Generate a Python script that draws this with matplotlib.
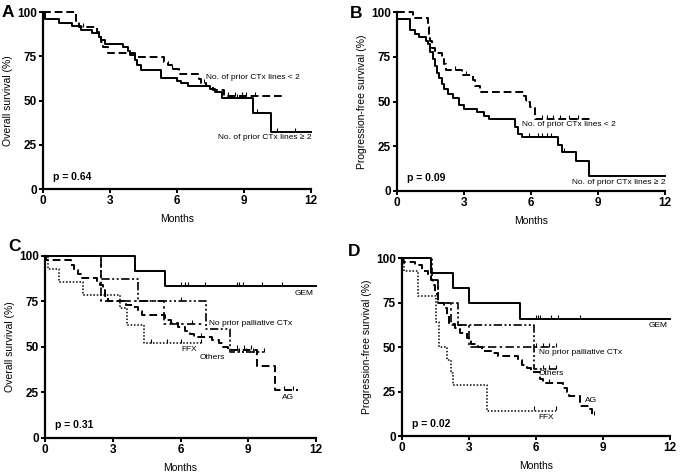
import numpy as np
import matplotlib
matplotlib.use("Agg")
import matplotlib.pyplot as plt

plt.rcParams['font.family'] = ['Liberation Sans', 'DejaVu Sans']
plt.rcParams['font.size'] = 7

# ---- Panel A: overall survival by prior CTx lines
a_ge2_t = [0, 0.1, 0.7, 1.3, 1.7, 2.2, 2.5, 2.6, 2.8, 3.6, 3.8, 3.9, 4.1, 4.2, 4.4, 5.3, 6.0, 6.2, 6.5, 7.5, 7.7, 8.0, 9.4, 10.2, 12.0]
a_ge2_s = [100, 96, 94, 92, 90, 88, 86, 84, 82, 80, 78, 76, 73, 70, 67, 63, 61, 60, 58, 56.5, 55, 51.5, 43, 32, 32]
a_ge2_c = [6.0, 7.3, 8.7, 9.6, 10.5, 11.3]
a_lt2_t = [0, 1.5, 1.6, 2.4, 2.5, 2.6, 2.7, 2.9, 4.1, 5.4, 5.6, 5.8, 6.1, 7.0, 7.1, 7.3, 7.6, 8.1, 10.8]
a_lt2_s = [100, 95, 91.5, 89, 86, 83, 80, 77, 74.5, 72, 70, 68, 65, 62, 60, 58, 56, 52.5, 52.5]
a_lt2_c = [1.8, 5.8, 7.2, 8.3, 8.6, 8.9, 9.1, 9.5]

# ---- Panel B: progression-free survival by prior CTx lines
b_ge2_t = [0, 0.02, 0.6, 0.8, 1.0, 1.3, 1.4, 1.5, 1.6, 1.7, 1.8, 1.9, 2.0, 2.1, 2.3, 2.5, 2.8, 3.0, 3.6, 3.9, 4.1, 5.3, 5.4, 5.6, 7.2, 7.4, 8.0, 8.6, 12.0]
b_ge2_s = [100, 96, 90, 88, 86, 84, 82, 78, 74, 70, 66, 63, 60, 57, 54, 52, 48, 46, 44, 42, 40, 36, 32, 30, 26, 22, 16.5, 8.2, 8.2]
b_ge2_c = [5.9, 6.3, 6.5, 6.7, 6.9, 7.2, 7.5]
b_lt2_t = [0, 0.7, 1.4, 1.45, 1.5, 1.55, 1.7, 2.0, 2.1, 2.2, 2.9, 3.4, 3.5, 3.7, 5.7, 5.8, 5.95, 6.2, 8.7]
b_lt2_s = [100, 97, 92, 88, 84, 80, 77, 74, 71, 67.7, 65, 62, 59, 55.6, 53, 50, 47, 40, 40]
b_lt2_c = [2.6, 3.1, 5.8, 6.5, 6.7, 7.0, 7.3, 7.7, 8.1]

# ---- Panel C: overall survival by regimen
c_gem_t = [0, 4.0, 5.3, 12.0]
c_gem_s = [100, 91.7, 83.3, 83.3]
c_gem_c = [6.0, 6.2, 6.35, 7.1, 8.5, 8.6, 8.75, 9.6, 10.5]
c_ag_t = [0, 0.05, 1.15, 1.3, 1.45, 1.6, 2.3, 2.45, 2.55, 2.65, 2.8, 3.6, 3.9, 4.1, 4.3, 5.3, 5.6, 5.9, 6.2, 6.4, 6.6, 7.4, 7.7, 7.9, 8.1, 9.4, 10.2, 11.2]
c_ag_s = [100, 97.5, 95, 92.5, 90, 88, 86, 84, 81, 78, 75, 73, 72, 70, 67.5, 65, 63, 61, 59, 57, 55.5, 54, 52, 50, 48.5, 39.5, 26.3, 26.3]
c_ag_c = [6.9, 8.5, 8.8, 9.1, 10.6, 11.0]
c_ffx_t = [0, 0.15, 0.6, 1.7, 3.3, 3.65, 4.4, 6.9]
c_ffx_s = [100, 92.9, 85.7, 78.6, 71.4, 61.8, 52, 52]
c_ffx_c = [4.7, 5.4, 6.0, 6.9]
c_nop_t = [0, 2.5, 5.25, 7.0]
c_nop_s = [100, 75, 62.5, 62.5]
c_nop_c = [6.5]
c_oth_t = [0, 2.5, 4.1, 7.15, 8.2, 9.7]
c_oth_s = [100, 87.5, 75, 60, 47, 47]
c_oth_c = [6.0, 8.6, 8.9, 9.2, 9.7]

# ---- Panel D: progression-free survival by regimen
d_gem_t = [0, 1.3, 2.3, 3.0, 5.3, 12.0]
d_gem_s = [100, 91.7, 83.3, 75, 65.6, 65.6]
d_gem_c = [6.0, 6.1, 6.2, 6.7, 7.0, 8.0]
d_ag_t = [0, 0.05, 0.6, 0.9, 1.15, 1.3, 1.4, 1.5, 1.6, 1.9, 2.0, 2.1, 2.4, 2.6, 2.9, 3.1, 3.4, 3.6, 4.1, 4.3, 5.2, 5.4, 5.6, 5.8, 6.2, 6.3, 7.2, 7.4, 7.5, 8.0, 8.4, 8.5, 8.6]
d_ag_s = [100, 98, 96, 93, 90, 88, 85, 80, 75, 72, 68, 63, 61, 58, 55, 52, 50, 48, 46.5, 45, 43, 40, 38, 36, 32, 30, 27, 25, 22.5, 17, 15, 12, 12]
d_ag_c = [6.6, 8.6]
d_ffx_t = [0, 0.1, 0.7, 1.55, 1.65, 2.0, 2.2, 2.3, 3.8, 6.9]
d_ffx_s = [100, 92.9, 78.6, 64.3, 50, 42.9, 35.7, 28.6, 14.3, 14.3]
d_ffx_c = [5.9, 6.9]
d_oth_t = [0, 1.35, 1.6, 2.5, 5.9, 6.9]
d_oth_s = [100, 87.5, 75, 62.5, 37.5, 37.5]
d_oth_c = [6.3, 6.6, 6.9]
d_nop_t = [0, 1.3, 1.6, 2.2, 3.0, 6.9]
d_nop_s = [100, 87.5, 75, 62.5, 50, 50]
d_nop_c = [6.0, 6.3, 6.6, 6.9]

SOLID = '-'
DASHED = (0, (4, 2))
DOTTED = (0, (1, 1.2))
DASHDOT = (0, (5, 2, 1.5, 2))
DASHDOTDOT = (0, (5, 1.5, 1.2, 1.5, 1.2, 1.5))
LABEL_FS = 6.0


def km(ax, t, s, cens, ls, lw=1.4):
    t = np.asarray(t, float)
    s = np.asarray(s, float)
    ax.plot(t, s, drawstyle='steps-post', color='black', linestyle=ls, lw=lw,
            clip_on=False, zorder=3)
    cens = np.asarray(cens, float)
    idx = np.searchsorted(t, cens, side='right') - 1
    ax.plot(cens, s[idx] + 1.2, linestyle='none', marker='|', color='black',
            markersize=3.2, markeredgewidth=0.8, clip_on=False, zorder=3)


def style(ax, ylabel, letter, pval, lx, ly):
    ax.set_xlim(0, 12)
    ax.set_ylim(0, 100)
    ax.set_xticks([0, 3, 6, 9, 12])
    ax.set_yticks([0, 25, 50, 75, 100])
    for sp in ['top', 'right']:
        ax.spines[sp].set_visible(False)
    for sp in ['left', 'bottom']:
        ax.spines[sp].set_linewidth(1.6)
    ax.tick_params(width=1.4, length=3, labelsize=8.5, pad=1.5)
    for lab in ax.get_xticklabels() + ax.get_yticklabels():
        lab.set_fontweight('bold')
    ax.set_xlabel('Months', fontsize=7.5, labelpad=5)
    ax.set_ylabel(ylabel, fontsize=7.5, labelpad=3)
    ax.text(0.45, 7, pval, fontsize=7.5, fontweight='bold', va='center')
    ax.figure.text(lx, ly, letter, fontsize=12.5, fontweight='bold',
                   va='center', ha='left')


fig = plt.figure(figsize=(6.8, 4.73), dpi=100)

axA = fig.add_axes([0.0632, 0.6004, 0.394, 0.374])
km(axA, a_lt2_t, a_lt2_s, a_lt2_c, DASHED)
km(axA, a_ge2_t, a_ge2_s, a_ge2_c, SOLID)
axA.text(7.3, 63, 'No. of prior CTx lines < 2', fontsize=LABEL_FS, va='center')
axA.text(7.85, 29, 'No. of prior CTx lines \u2265 2', fontsize=LABEL_FS, va='center')
style(axA, 'Overall survival (%)', 'A', 'p = 0.64', 0.003, 0.974)

axB = fig.add_axes([0.5838, 0.5962, 0.394, 0.378])
km(axB, b_lt2_t, b_lt2_s, b_lt2_c, DASHED)
km(axB, b_ge2_t, b_ge2_s, b_ge2_c, SOLID)
axB.text(5.6, 37, 'No. of prior CTx lines < 2', fontsize=LABEL_FS, va='center')
axB.text(7.85, 4.7, 'No. of prior CTx lines \u2265 2', fontsize=LABEL_FS, va='center')
style(axB, 'Progression-free survival (%)', 'B', 'p = 0.09', 0.515, 0.972)

axC = fig.add_axes([0.0662, 0.074, 0.3985, 0.385])
km(axC, c_ffx_t, c_ffx_s, c_ffx_c, DOTTED, lw=1.1)
km(axC, c_oth_t, c_oth_s, c_oth_c, DASHDOTDOT, lw=1.2)
km(axC, c_nop_t, c_nop_s, c_nop_c, DASHDOT, lw=1.2)
km(axC, c_ag_t, c_ag_s, c_ag_c, DASHED)
km(axC, c_gem_t, c_gem_s, c_gem_c, SOLID)
axC.text(11.07, 79.5, 'GEM', fontsize=LABEL_FS, va='center')
axC.text(7.28, 63, 'No prior palliative CTx', fontsize=LABEL_FS, va='center')
axC.text(6.05, 48.6, 'FFX', fontsize=LABEL_FS, va='center')
axC.text(6.86, 44, 'Others', fontsize=LABEL_FS, va='center')
axC.text(10.5, 22.4, 'AG', fontsize=LABEL_FS, va='center')
style(axC, 'Overall survival (%)', 'C', 'p = 0.31', 0.012, 0.478)

axD = fig.add_axes([0.591, 0.0782, 0.394, 0.376])
km(axD, d_ffx_t, d_ffx_s, d_ffx_c, DOTTED, lw=1.1)
km(axD, d_oth_t, d_oth_s, d_oth_c, DASHDOTDOT, lw=1.2)
km(axD, d_nop_t, d_nop_s, d_nop_c, DASHDOT, lw=1.2)
km(axD, d_ag_t, d_ag_s, d_ag_c, DASHED)
km(axD, d_gem_t, d_gem_s, d_gem_c, SOLID)
axD.text(11.07, 62, 'GEM', fontsize=LABEL_FS, va='center')
axD.text(6.13, 46.7, 'No prior palliative CTx', fontsize=LABEL_FS, va='center')
axD.text(6.13, 35, 'Others', fontsize=LABEL_FS, va='center')
axD.text(8.19, 20, 'AG', fontsize=LABEL_FS, va='center')
axD.text(6.13, 10.3, 'FFX', fontsize=LABEL_FS, va='center')
style(axD, 'Progression-free survival (%)', 'D', 'p = 0.02', 0.512, 0.468)

fig.savefig('out.png', dpi=100)
